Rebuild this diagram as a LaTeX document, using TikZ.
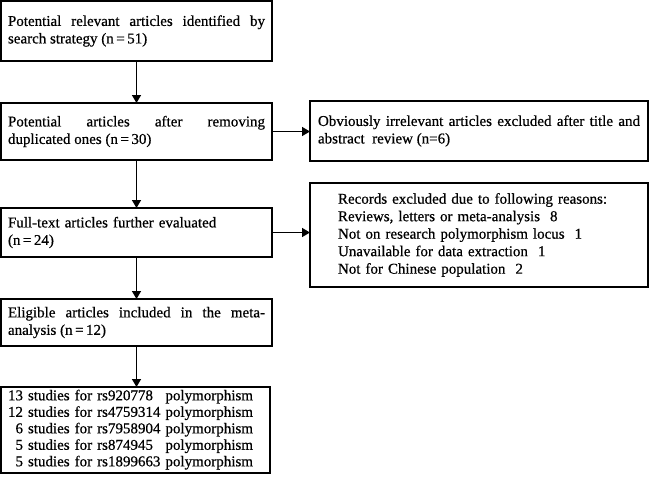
\documentclass[tikz,border=0pt]{standalone}
\usepackage{fontspec}
\setmainfont{Liberation Serif}[FakeBold=0.6]
\usetikzlibrary{arrows.meta}
\begin{document}
	\begin{tikzpicture}[x=1pt,y=-1pt,
		box/.style={draw,line width=1.8pt,anchor=north west,outer sep=0pt,inner ysep=0pt,inner xsep=7pt,font=\fontsize{15}{17.5}\selectfont},
		flow/.style={line width=1.6pt,-{Triangle[width=9pt,length=8pt]}}]
		\useasboundingbox (0,0) rectangle (650,477);
		\node[box,text width=257pt,minimum height=60pt,align=justify] (found) at (1,1) {Potential relevant articles identified by\linebreak search strategy (n\,=\,51)};
		\node[box,text width=257pt,minimum height=57pt,align=justify] (dedup) at (1,103) {Potential articles after removing\linebreak duplicated ones (n\,=\,30)};
		\node[box,text width=257pt,minimum height=49pt,align=left] (full) at (1,208) {Full-text articles further evaluated\\(n\,=\,24)};
		\node[box,text width=257pt,minimum height=47pt,align=justify] (elig) at (1,299) {Eligible articles included in the meta-\linebreak analysis (n\,=\,12)};
		\node[box,text width=255pt,minimum height=86pt,align=left] (snp) at (1,387) {\def\arraystretch{0.943}\begin{tabular}{@{}r@{\ }l@{\ }l@{}}
			13 & studies for rs920778 & polymorphism\\
			12 & studies for rs4759314 & polymorphism\\
			6 & studies for rs7958904 & polymorphism\\
			5 & studies for rs874945 & polymorphism\\
			5 & studies for rs1899663 & polymorphism
		\end{tabular}};
		\node[box,text width=322pt,minimum height=60pt,align=justify,inner xsep=8pt] (title) at (310,101) {Obviously irrelevant articles excluded after title and\linebreak abstract\ \ review (n=6)};
		\node[box,text width=282pt,minimum height=104pt,align=left,inner xsep=28pt] (excl) at (310,183) {Records excluded due to following reasons:\\
			Reviews, letters or meta-analysis\ \ 8\\
			Not on research polymorphism locus\ \ 1\\
			Unavailable for data extraction\ \ 1\\
			Not for Chinese population\ \ 2};
		\draw[flow] (found) -- (dedup);
		\draw[flow] (dedup) -- (full);
		\draw[flow] (full) -- (elig);
		\draw[flow] (elig.south) -- (elig.south |- snp.north);
		\draw[flow] (dedup.east) -- (dedup.east -| title.west);
		\draw[flow] (full.east) -- (full.east -| excl.west);
	\end{tikzpicture}
\end{document}
